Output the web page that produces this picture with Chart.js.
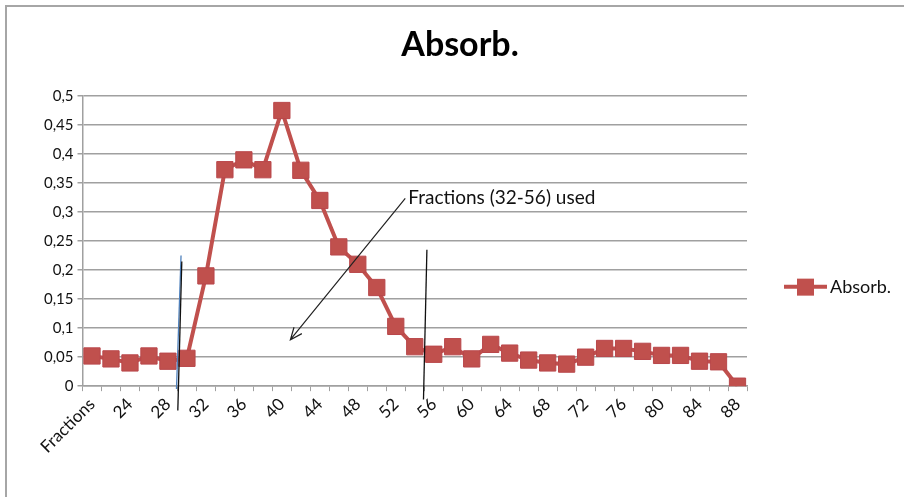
<!DOCTYPE html>
<html>
<head>
<meta charset="utf-8">
<script src="https://cdn.jsdelivr.net/npm/chart.js@4"></script>
<style>
  html, body { margin: 0; padding: 0; background: #fff; }
  #wrap { width: 904px; height: 497px; }
</style>
</head>
<body>
<div id="wrap"><canvas id="myChart"></canvas></div>
<script>
const fractions = ['Fractions', '22', '24', '26', '28', '30', '32', '34', '36', '38', '40', '42', '44', '46', '48', '50', '52', '54', '56', '58', '60', '62', '64', '66', '68', '70', '72', '74', '76', '78', '80', '82', '84', '86', '88'];
const absorb = [0.052, 0.047, 0.040, 0.052, 0.043, 0.048, 0.190, 0.373, 0.390, 0.373, 0.475, 0.372, 0.320, 0.240, 0.210, 0.170, 0.103, 0.068, 0.055, 0.068, 0.047, 0.072, 0.057, 0.045, 0.040, 0.038, 0.050, 0.065, 0.065, 0.060, 0.053, 0.053, 0.043, 0.042, 0.000];
const yTicks = [0, 0.05, 0.1, 0.15, 0.2, 0.25, 0.3, 0.35, 0.4, 0.45, 0.5];
const chartTitle = 'Absorb.';

// hand drawn marks, in category index / value units
const cutLines = [
    { x1: 4.69, y1: 0.225, x2: 4.45, y2: -0.005, color: '#4f81bd' },
    { x1: 4.73, y1: 0.215, x2: 4.52, y2: -0.042, color: '#111' },
    { x1: 17.64, y1: 0.235, x2: 17.46, y2: -0.023, color: '#111' }
];
const arrow = { x1: 16.5, y1: 0.3235, x2: 10.45, y2: 0.08 };
const note = { x: 16.66, y: 0.325, text: 'Fractions (32-56) used' };

const red = '#c0504d';
const font = 'Lato, "Open Sans", sans-serif';

const extras = {
    id: 'extras',
    beforeDraw(chart) {
        const c = chart.ctx;
        c.save();
        c.strokeStyle = '#a6a6a6';
        c.lineWidth = 2;
        c.beginPath();
        c.moveTo(6, chart.height);
        c.lineTo(6, 6);
        c.lineTo(chart.width, 6);
        c.stroke();
        // title, centred over the whole picture like Excel does
        c.fillStyle = '#000';
        c.font = 'bold 34px ' + font;
        c.textAlign = 'center';
        c.textBaseline = 'middle';
        c.fillText(chartTitle, chart.width / 2 + 8, 45);
        c.restore();
    },
    afterDraw(chart) {
        const c = chart.ctx;
        const xs = chart.scales.x, ys = chart.scales.y;
        const px = v => xs.getPixelForValue(v), py = v => ys.getPixelForValue(v);
        c.save();
        c.lineWidth = 1.3;
        cutLines.forEach(l => {
            c.strokeStyle = l.color;
            c.beginPath();
            c.moveTo(px(l.x1), py(l.y1));
            c.lineTo(px(l.x2), py(l.y2));
            c.stroke();
        });
        // arrow
        const ax1 = px(arrow.x1), ay1 = py(arrow.y1), ax2 = px(arrow.x2), ay2 = py(arrow.y2);
        c.strokeStyle = '#222';
        c.lineWidth = 1.2;
        c.beginPath();
        c.moveTo(ax1, ay1);
        c.lineTo(ax2, ay2);
        const ang = Math.atan2(ay2 - ay1, ax2 - ax1);
        const hl = 13;
        c.moveTo(ax2 + hl * Math.cos(ang + Math.PI - 0.4), ay2 + hl * Math.sin(ang + Math.PI - 0.4));
        c.lineTo(ax2, ay2);
        c.lineTo(ax2 + hl * Math.cos(ang + Math.PI + 0.4), ay2 + hl * Math.sin(ang + Math.PI + 0.4));
        c.stroke();
        c.fillStyle = '#111';
        c.font = '19px ' + font;
        c.textAlign = 'left';
        c.textBaseline = 'middle';
        c.fillText(note.text, px(note.x), py(note.y));

        // legend, Excel style: line through a square marker
        const area = chart.chartArea;
        const lx = area.right + 37;
        const ly = area.top + (area.bottom - area.top) * 0.657;
        c.strokeStyle = red;
        c.lineWidth = 4;
        c.beginPath();
        c.moveTo(lx, ly);
        c.lineTo(lx + 43, ly);
        c.stroke();
        c.fillStyle = red;
        c.fillRect(lx + 13, ly - 8, 17, 17);
        c.fillStyle = '#111';
        c.font = '18px ' + font;
        c.fillText(chart.data.datasets[0].label, lx + 46, ly + 1);
        c.restore();
    }
};

const ctx = document.getElementById('myChart').getContext('2d');
const myChart = new Chart(ctx, {
    type: 'line',
    data: {
        labels: fractions,
        datasets: [{
            label: 'Absorb.',
            data: absorb,
            borderColor: red,
            backgroundColor: red,
            borderWidth: 4,
            pointStyle: 'rect',
            pointRadius: 11.5,
            pointHoverRadius: 11.5,
            pointBorderWidth: 1,
            pointBorderColor: '#b9474b',
            tension: 0
        }]
    },
    options: {
        responsive: true,
        maintainAspectRatio: false,
        animation: false,
        layout: { padding: { left: 40, right: 157, top: 96, bottom: 37 } },
        plugins: {
            title: { display: false },
            legend: { display: false },
            tooltip: { enabled: false }
        },
        scales: {
            x: {
                offset: true,
                grid: { offset: true, drawOnChartArea: false, drawTicks: true, tickLength: 5, color: '#a0a0a0' },
                border: { color: '#a0a0a0', width: 1.5 },
                ticks: {
                    autoSkip: false,
                    minRotation: 45,
                    maxRotation: 45,
                    color: '#111',
                    font: { family: font, size: 17 },
                    callback: function (v, i) { return i % 2 === 0 ? this.getLabelForValue(v) : ''; }
                }
            },
            y: {
                min: 0,
                max: 0.5,
                afterBuildTicks: axis => { axis.ticks = yTicks.map(v => ({ value: v })); },
                grid: { color: '#a0a0a0', lineWidth: 1.5, tickLength: 5 },
                border: { color: '#a0a0a0', width: 1.5 },
                ticks: {
                    color: '#111',
                    font: { family: font, size: 15 },
                    padding: 4,
                    callback: v => String(Math.round(v * 100) / 100).replace('.', ',')
                }
            }
        }
    },
    plugins: [extras]
});
</script>
</body>
</html>
